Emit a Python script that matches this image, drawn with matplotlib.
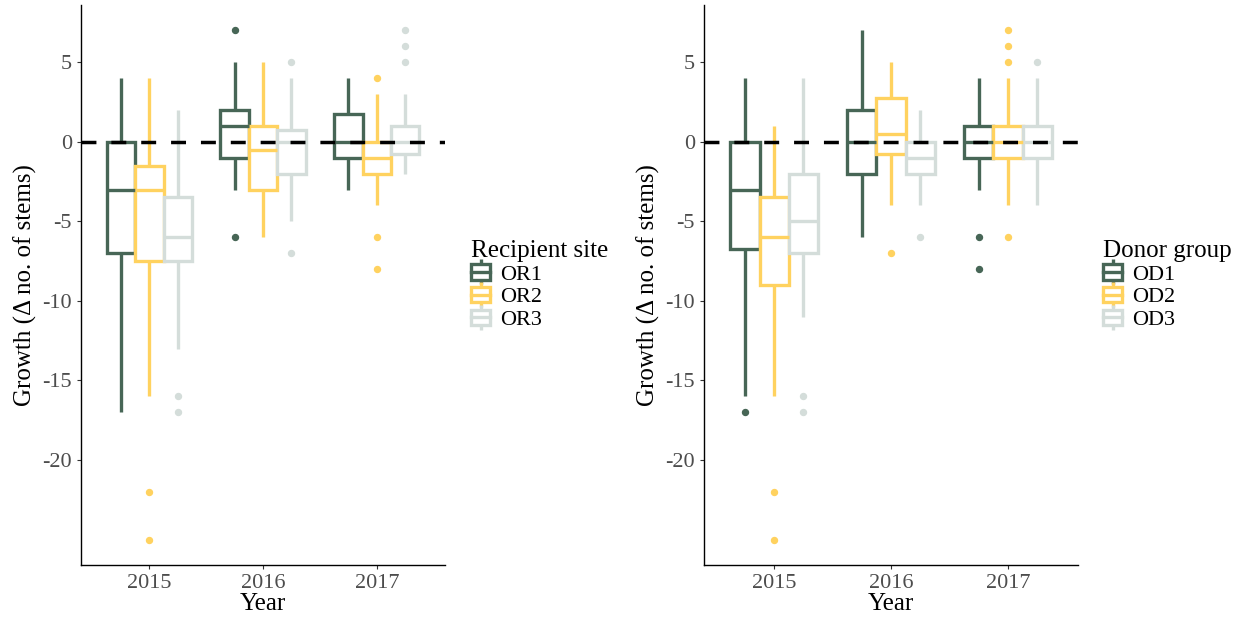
import matplotlib
matplotlib.use('Agg')
import matplotlib.pyplot as plt
from matplotlib.patches import Rectangle
from matplotlib.lines import Line2D
from matplotlib.legend_handler import HandlerBase

plt.rcParams['font.family'] = ['Liberation Serif', 'DejaVu Serif']
plt.rcParams['axes.unicode_minus'] = False

YEARS = ['2015', '2016', '2017']
COLORS = ['#476656', '#FFD25F', '#D4DDDA']

# recipient sites (left panel), values per year
OR_NAMES = ['OR1', 'OR2', 'OR3']
OR_WHISLO = [[-17, -3, -3], [-16, -6, -4], [-13, -5, -2]]
OR_Q1 = [[-7, -1, -1], [-7.5, -3, -2], [-7.5, -2, -0.75]]
OR_MED = [[-3, 1, 0], [-3, -0.5, -1], [-6, 0, 0]]
OR_Q3 = [[0, 2, 1.75], [-1.5, 1, 0], [-3.5, 0.75, 1]]
OR_WHISHI = [[4, 5, 4], [4, 5, 3], [2, 4, 3]]
OR_FLIERS = [[[], [7, -6], []],
             [[-22, -25], [], [4, -6, -8]],
             [[-16, -17], [5, -7], [7, 6, 5]]]

# donor groups (right panel)
OD_NAMES = ['OD1', 'OD2', 'OD3']
OD_WHISLO = [[-16, -6, -3], [-16, -4, -4], [-11, -4, -4]]
OD_Q1 = [[-6.75, -2, -1], [-9, -0.75, -1], [-7, -2, -1]]
OD_MED = [[-3, 0, 0], [-6, 0.5, 0], [-5, -1, 0]]
OD_Q3 = [[0, 2, 1], [-3.5, 2.75, 1], [-2, 0, 1]]
OD_WHISHI = [[4, 7, 4], [1, 5, 4], [4, 2, 4]]
OD_FLIERS = [[[-17], [], [-6, -8]],
             [[-22, -25], [-7], [7, 6, 5, -6]],
             [[-16, -17], [-6], [5]]]

LW = 2.4


class BoxKey(HandlerBase):
    def create_artists(self, legend, orig, xd, yd, w, h, fontsize, trans):
        c = orig.get_edgecolor()
        x0, y0 = -xd, -yd
        cx = x0 + w / 2
        ext = h * 0.3
        whisk = Line2D([cx, cx], [y0 - ext, y0 + h + ext], color=c, lw=LW,
                       solid_capstyle='butt', transform=trans)
        box = Rectangle((x0, y0), w, h, facecolor='white', edgecolor=c,
                        lw=LW, transform=trans)
        med = Line2D([x0, x0 + w], [y0 + h / 2, y0 + h / 2], color=c, lw=LW,
                     transform=trans)
        return [whisk, box, med]


def draw_panel(ax, names, whislo, q1, med, q3, whishi, fliers, title, lx):
    width = 0.25
    for g in range(len(names)):
        stats = []
        for i in range(len(YEARS)):
            stats.append({'whislo': whislo[g][i], 'q1': q1[g][i], 'med': med[g][i],
                          'q3': q3[g][i], 'whishi': whishi[g][i],
                          'fliers': fliers[g][i]})
        pos = [i + (g - 1) * width for i in range(len(YEARS))]
        c = COLORS[g]
        ax.bxp(stats, positions=pos, widths=width, showcaps=False,
               patch_artist=True, manage_ticks=False,
               boxprops=dict(facecolor='white', edgecolor=c, linewidth=LW),
               medianprops=dict(color=c, linewidth=LW, solid_capstyle='butt'),
               whiskerprops=dict(color=c, linewidth=LW, solid_capstyle='butt'),
               flierprops=dict(marker='o', markerfacecolor=c, markeredgecolor=c,
                               markersize=4.3))
    ax.axhline(0, color='black', lw=2.5, linestyle=(0, (4.3, 4.3)), zorder=5)
    ax.set_xlim(-0.6, 2.6)
    ax.set_ylim(-26.6, 8.6)
    ax.set_xticks(range(len(YEARS)))
    ax.set_xticklabels(YEARS)
    ax.set_yticks([5, 0, -5, -10, -15, -20])
    ax.tick_params(labelsize=16, labelcolor='#4D4D4D', color='#333333',
                   length=3, width=0.8)
    for s in ['top', 'right']:
        ax.spines[s].set_visible(False)
    for s in ['left', 'bottom']:
        ax.spines[s].set_linewidth(1.0)
    ax.set_xlabel('Year', fontsize=18, labelpad=0)
    ax.set_ylabel('Growth (\u0394 no. of stems)', fontsize=18, labelpad=4)
    handles = [Rectangle((0, 0), 1, 1, facecolor='white', edgecolor=c) for c in COLORS]
    ax.legend(handles, names, handler_map={Rectangle: BoxKey()},
              title=title, title_fontsize=18, fontsize=16, frameon=False,
              loc='center left', bbox_to_anchor=(lx, 0.5), borderpad=0,
              borderaxespad=0, handlelength=0.85, handleheight=0.7,
              handletextpad=0.45, labelspacing=0.1, alignment='left')


fig = plt.figure(figsize=(12.49, 6.21), dpi=100)
ax1 = fig.add_axes([0.0649, 0.0902, 0.2914, 0.9018])
ax2 = fig.add_axes([0.5637, 0.0902, 0.2994, 0.9018])

draw_panel(ax1, OR_NAMES, OR_WHISLO, OR_Q1, OR_MED, OR_Q3, OR_WHISHI, OR_FLIERS,
           'Recipient site', 1.072)
draw_panel(ax2, OD_NAMES, OD_WHISLO, OD_Q1, OD_MED, OD_Q3, OD_WHISHI, OD_FLIERS,
           'Donor group', 1.068)

fig.savefig('out.png', dpi=100)
